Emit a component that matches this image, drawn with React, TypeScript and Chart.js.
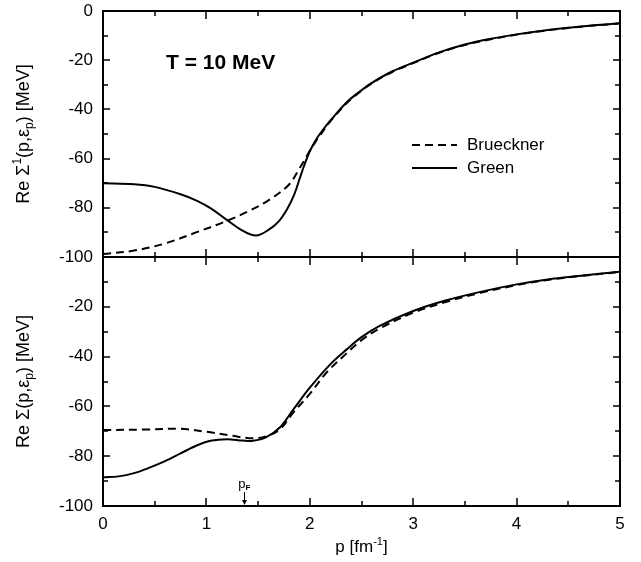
import React, { useEffect, useRef } from "react";
import { Chart, registerables } from "chart.js";
Chart.register(...registerables);

const FONT = "'Liberation Sans', Arial, Helvetica, sans-serif";

// ---- data: top panel (Re Σ¹) ----
const P_TOP_BRUECKNER = [0, 0.3, 0.6, 0.9, 1.2, 1.4, 1.6, 1.8, 1.9, 1.95, 2.0, 2.05, 2.1, 2.2, 2.36, 2.5, 2.6, 2.8, 3.0, 3.25, 3.5, 3.75, 4.0, 4.25, 4.5, 4.75, 5.0];
const V_TOP_BRUECKNER = [-98.8, -97.4, -94.5, -90, -85.3, -81.5, -77, -70.5, -64, -60.5, -56.8, -53.5, -50.5, -44.8, -37.3, -32.4, -29.4, -24.7, -21.2, -17, -13.8, -11.5, -9.6, -8.1, -6.9, -5.9, -5.1];
const P_TOP_GREEN = [0, 0.3, 0.5, 0.75, 0.9, 1.05, 1.2, 1.35, 1.48, 1.6, 1.7, 1.78, 1.85, 1.9, 1.95, 2.0, 2.05, 2.1, 2.2, 2.36, 2.5, 2.6, 2.8, 3.0, 3.25, 3.5, 3.75, 4.0, 4.25, 4.5, 4.75, 5.0];
const V_TOP_GREEN = [-70, -70.4, -71.5, -74.5, -77, -80.4, -85, -89.3, -91.3, -89, -85.5, -80.6, -74.5, -68.4, -62.3, -57, -53, -49.8, -44.5, -37, -32.2, -29.2, -24.5, -21, -16.8, -13.6, -11.3, -9.5, -8, -6.8, -5.8, -5.0];

// ---- data: bottom panel (Re Σ) ----
const P_BOT_BRUECKNER = [0, 0.4, 0.75, 1.0, 1.25, 1.45, 1.58, 1.71, 1.84, 2.0, 2.16, 2.36, 2.5, 2.68, 3.0, 3.32, 3.65, 4.0, 4.3, 4.6, 5.0];
const V_BOT_BRUECKNER = [-69.5, -69.3, -69, -70.2, -71.8, -72.8, -72, -69.2, -62.5, -55, -46.5, -38.5, -33.4, -28.6, -22.4, -18, -14.4, -11.3, -9.2, -7.7, -6];
const P_BOT_GREEN = [0, 0.15, 0.3, 0.45, 0.6, 0.75, 0.9, 1.04, 1.2, 1.35, 1.45, 1.58, 1.71, 1.84, 2.0, 2.2, 2.36, 2.5, 2.68, 3.0, 3.32, 3.65, 4.0, 4.3, 4.6, 5.0];
const V_BOT_GREEN = [-88.5, -88.1, -86.8, -84.6, -82, -78.9, -75.8, -73.8, -73.2, -73.7, -73.8, -72.3, -68.5, -61.3, -52.5, -43, -37, -32.2, -27.6, -21.7, -17.4, -14, -11, -9, -7.6, -5.9];

// ---- axes ----
const X_TICKS = [0, 0.5, 1, 1.5, 2, 2.5, 3, 3.5, 4, 4.5, 5];
const Y_TICKS = [-100, -90, -80, -70, -60, -50, -40, -30, -20, -10, 0];
const P_F = 1.36;
const TEMP_LABEL = "T = 10 MeV";
const SERIES_NAMES = ["Brueckner", "Green"];

const pts = (xs: number[], ys: number[]) => xs.map((x, i) => ({ x, y: ys[i] }));

const lineDs = (label: string, data: any[], dashed: boolean) => ({
  label,
  data,
  borderColor: "#000",
  backgroundColor: "#000",
  borderWidth: 2,
  borderDash: dashed ? [8, 5] : [],
  pointRadius: 0,
  tension: 0.35,
  fill: false,
});

const framePlugin = {
  id: "frame",
  afterDatasetsDraw(chart: any) {
    const { ctx, chartArea: a, scales } = chart;
    const xs = scales.x;
    const ys = scales.y;
    ctx.save();
    ctx.strokeStyle = "#000";
    ctx.lineWidth = 2;
    ctx.strokeRect(a.left, a.top, a.right - a.left, a.bottom - a.top);
    ctx.lineWidth = 1.5;
    ctx.beginPath();
    for (const t of X_TICKS) {
      const px = Math.round(xs.getPixelForValue(t));
      const len = Number.isInteger(t) ? 8 : 5;
      ctx.moveTo(px, a.top);
      ctx.lineTo(px, a.top + len);
      ctx.moveTo(px, a.bottom);
      ctx.lineTo(px, a.bottom - len);
    }
    for (const t of Y_TICKS) {
      const py = Math.round(ys.getPixelForValue(t));
      const len = t % 20 === 0 ? 7 : 5;
      ctx.moveTo(a.left, py);
      ctx.lineTo(a.left + len, py);
      ctx.moveTo(a.right, py);
      ctx.lineTo(a.right - len, py);
    }
    ctx.stroke();
    ctx.restore();
  },
};

type Piece = { t: string; s: number; dy?: number };
function drawPieces(ctx: CanvasRenderingContext2D, pieces: Piece[], cx: number, cy: number, rotate: boolean) {
  ctx.save();
  ctx.translate(cx, cy);
  if (rotate) ctx.rotate(-Math.PI / 2);
  let total = 0;
  for (const p of pieces) {
    ctx.font = `${p.s}px ${FONT}`;
    total += ctx.measureText(p.t).width;
  }
  let x = -total / 2;
  ctx.fillStyle = "#000";
  ctx.textBaseline = "alphabetic";
  ctx.textAlign = "left";
  for (const p of pieces) {
    ctx.font = `${p.s}px ${FONT}`;
    ctx.fillText(p.t, x, 6 + (p.dy || 0));
    x += ctx.measureText(p.t).width;
  }
  ctx.restore();
}

const topAnnot = {
  id: "topAnnot",
  afterDraw(chart: any) {
    const { ctx, chartArea: a } = chart;
    ctx.save();
    ctx.fillStyle = "#000";
    ctx.font = `bold 21px ${FONT}`;
    ctx.textAlign = "left";
    ctx.textBaseline = "middle";
    ctx.fillText(TEMP_LABEL, 166, 63);
    const rows = [
      { name: SERIES_NAMES[0], dash: [8, 5], y: 145 },
      { name: SERIES_NAMES[1], dash: [], y: 168 },
    ];
    for (const r of rows) {
      ctx.beginPath();
      ctx.setLineDash(r.dash);
      ctx.lineWidth = 2;
      ctx.strokeStyle = "#000";
      ctx.moveTo(412, r.y);
      ctx.lineTo(457, r.y);
      ctx.stroke();
      ctx.setLineDash([]);
      ctx.font = `17px ${FONT}`;
      ctx.fillText(r.name, 467, r.y);
    }
    ctx.restore();
    drawPieces(
      ctx,
      [
        { t: "Re Σ", s: 18 },
        { t: "1", s: 12, dy: -8 },
        { t: "(p,ε", s: 18 },
        { t: "p", s: 12, dy: 4 },
        { t: ") [MeV]", s: 18 },
      ],
      23,
      (a.top + a.bottom) / 2,
      true
    );
  },
};

const botAnnot = {
  id: "botAnnot",
  afterDraw(chart: any) {
    const { ctx, chartArea: a, scales } = chart;
    drawPieces(
      ctx,
      [
        { t: "Re Σ", s: 18 },
        { t: "(p,ε", s: 18 },
        { t: "p", s: 12, dy: 4 },
        { t: ") [MeV]", s: 18 },
      ],
      23,
      (a.top + a.bottom) / 2,
      true
    );
    drawPieces(
      ctx,
      [
        { t: "p [fm", s: 17 },
        { t: "-1", s: 11, dy: -7 },
        { t: "]", s: 17 },
      ],
      (a.left + a.right) / 2,
      306,
      false
    );
    const px = Math.round(scales.x.getPixelForValue(P_F)) + 0.5;
    ctx.save();
    ctx.fillStyle = "#000";
    ctx.textBaseline = "alphabetic";
    ctx.textAlign = "right";
    ctx.font = `13px ${FONT}`;
    ctx.fillText("p", px + 1, a.bottom - 18);
    ctx.textAlign = "left";
    ctx.font = `bold 8px ${FONT}`;
    ctx.fillText("F", px + 1, a.bottom - 16);
    ctx.strokeStyle = "#000";
    ctx.lineWidth = 1;
    ctx.beginPath();
    ctx.moveTo(px, a.bottom - 14);
    ctx.lineTo(px, a.bottom - 2);
    ctx.stroke();
    ctx.beginPath();
    ctx.moveTo(px - 2.5, a.bottom - 6);
    ctx.lineTo(px, a.bottom - 1);
    ctx.lineTo(px + 2.5, a.bottom - 6);
    ctx.closePath();
    ctx.fill();
    ctx.restore();
  },
};

const yAxis = (hideZero: boolean) => ({
  type: "linear" as const,
  min: -100,
  max: 0,
  afterFit: (s: any) => {
    s.width = 103;
    s.paddingTop = 0;
    s.paddingBottom = 0;
  },
  grid: { display: false, drawTicks: false },
  border: { display: false },
  ticks: {
    stepSize: 10,
    padding: 10,
    color: "#000",
    font: { family: FONT, size: 17 },
    callback: (v: any) => {
      const n = Number(v);
      if (n % 20 !== 0) return "";
      if (hideZero && n === 0) return "";
      return String(n);
    },
  },
});

export default function App() {
  const topRef = useRef<HTMLCanvasElement | null>(null);
  const botRef = useRef<HTMLCanvasElement | null>(null);

  useEffect(() => {
    const common = {
      animation: false as const,
      responsive: false,
      devicePixelRatio: 1,
      plugins: { legend: { display: false }, tooltip: { enabled: false } },
      events: [] as any[],
    };
    const top = new Chart(topRef.current as HTMLCanvasElement, {
      type: "line",
      data: {
        datasets: [
          lineDs(SERIES_NAMES[0], pts(P_TOP_BRUECKNER, V_TOP_BRUECKNER), true),
          lineDs(SERIES_NAMES[1], pts(P_TOP_GREEN, V_TOP_GREEN), false),
        ],
      },
      options: {
        ...common,
        layout: { padding: { left: 0, top: 11, right: 21, bottom: 13 } },
        scales: {
          x: { type: "linear", min: 0, max: 5, display: false },
          y: yAxis(false),
        },
      } as any,
      plugins: [framePlugin, topAnnot],
    });
    const bot = new Chart(botRef.current as HTMLCanvasElement, {
      type: "line",
      data: {
        datasets: [
          lineDs(SERIES_NAMES[0], pts(P_BOT_BRUECKNER, V_BOT_BRUECKNER), true),
          lineDs(SERIES_NAMES[1], pts(P_BOT_GREEN, V_BOT_GREEN), false),
        ],
      },
      options: {
        ...common,
        layout: { padding: { left: 0, top: 17, right: 21, bottom: 0 } },
        scales: {
          x: {
            type: "linear",
            min: 0,
            max: 5,
            afterFit: (s: any) => {
              s.height = 56;
              s.paddingLeft = 0;
              s.paddingRight = 0;
            },
            grid: { display: false, drawTicks: false },
            border: { display: false },
            ticks: {
              stepSize: 0.5,
              padding: 8,
              maxRotation: 0,
              autoSkip: false,
              color: "#000",
              font: { family: FONT, size: 17 },
              callback: (v: any) => (Number.isInteger(Number(v)) ? String(v) : ""),
            },
          },
          y: yAxis(true),
        },
      } as any,
      plugins: [framePlugin, botAnnot],
    });
    return () => {
      top.destroy();
      bot.destroy();
    };
  }, []);

  return (
    <div style={{ position: "absolute", left: 0, top: 0, width: 641, height: 562, background: "#fff", overflow: "hidden" }}>
      <canvas ref={topRef} width={641} height={270} style={{ position: "absolute", left: 0, top: 0, width: 641, height: 270 }} />
      <canvas ref={botRef} width={641} height={322} style={{ position: "absolute", left: 0, top: 240, width: 641, height: 322 }} />
    </div>
  );
}
